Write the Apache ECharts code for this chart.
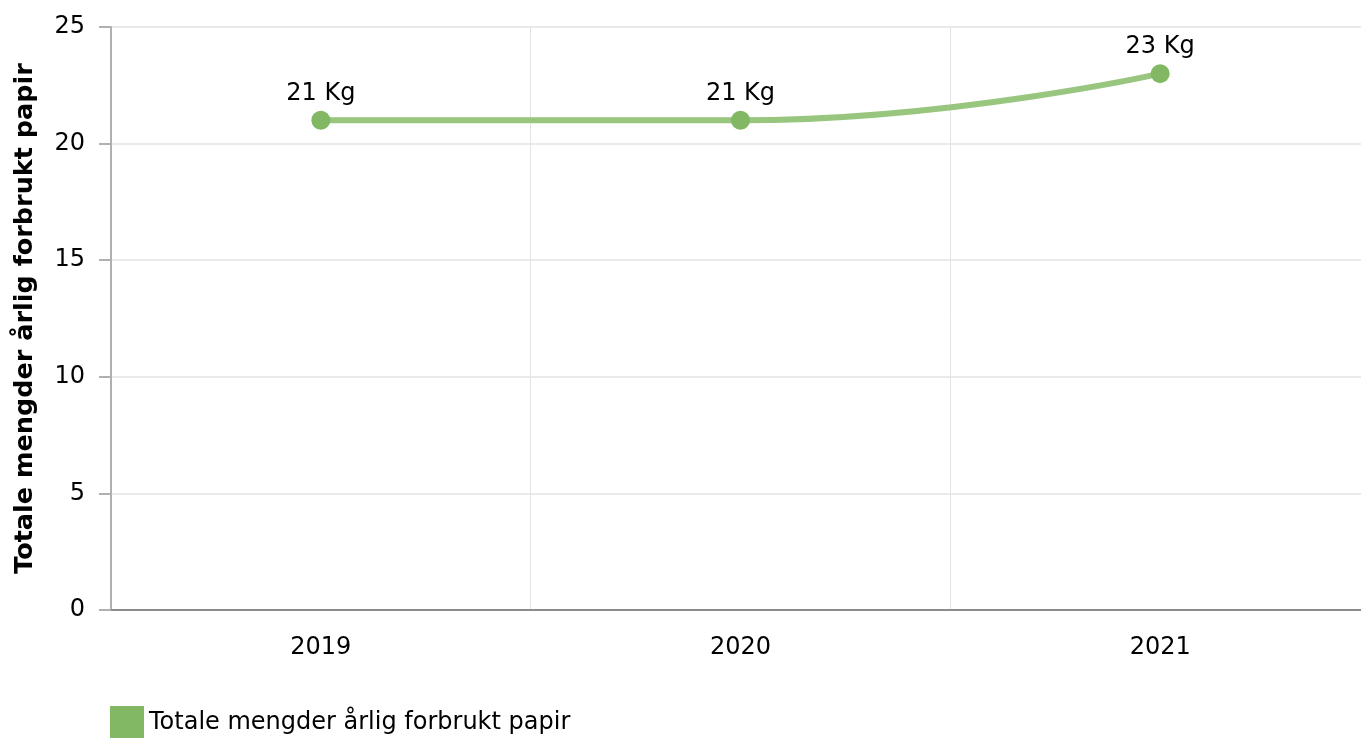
<!DOCTYPE html>
<html>
<head>
<meta charset="utf-8">
<script src="https://cdn.jsdelivr.net/npm/echarts@6/dist/echarts.min.js"></script>
<style>html,body{margin:0;padding:0;background:#fff;}#c{width:1361px;height:738px;}</style>
</head>
<body>
<div id="c"></div>
<script>
const categories = ['2019', '2020', '2021'];
const values = [21, 21, 23];
const seriesName = 'Totale mengder årlig forbrukt papir';
const yAxisName = 'Totale mengder årlig forbrukt papir';
const unit = 'Kg';

const chart = echarts.init(document.getElementById('c'));
const font = 'Verdana, "DejaVu Sans", sans-serif';
chart.setOption({
  animation: false,
  textStyle: { fontFamily: font },
  grid: { left: 111, top: 27, bottom: 128, right: -9, containLabel: false, outerBoundsMode: 'none' },
  legend: {
    left: 105, top: 701,
    icon: 'rect', itemWidth: 34, itemHeight: 34, itemGap: 10, itemStyle: { borderWidth: 0 },
    textStyle: { fontSize: 24, color: '#000', fontFamily: font },
    data: [seriesName]
  },
  xAxis: {
    type: 'category',
    data: categories,
    boundaryGap: true,
    axisLine: { lineStyle: { color: '#8c8c8c', width: 2 } },
    axisTick: { alignWithLabel: true, length: 11, lineStyle: { color: '#b0b0b0', width: 2 } },
    axisLabel: { fontSize: 24, color: '#000', margin: 26, fontFamily: font },
    splitLine: { show: true, lineStyle: { color: '#e3e3e3', width: 1 } }
  },
  yAxis: {
    type: 'value',
    min: 0, max: 25, interval: 5,
    name: yAxisName,
    nameLocation: 'middle',
    nameGap: 73,
    nameTextStyle: { fontSize: 25.5, fontWeight: 'bold', color: '#000', fontFamily: font },
    axisLine: { show: true, lineStyle: { color: '#b0b0b0', width: 2 } },
    axisTick: { show: true, length: 12, lineStyle: { color: '#b0b0b0', width: 2 } },
    axisLabel: { fontSize: 24, color: '#000', margin: 26, fontFamily: font },
    splitLine: { show: true, lineStyle: { color: '#e3e3e3', width: 1.5 } }
  },
  series: [{
    name: seriesName,
    type: 'line',
    data: values,
    smooth: 0.5,
    symbol: 'circle',
    symbolSize: 19,
    itemStyle: { color: '#82b763' },
    lineStyle: { color: '#98c67f', width: 6 },
    label: {
      show: true, position: 'top', distance: 5,
      fontSize: 24, color: '#000', fontFamily: font,
      formatter: p => p.value + ' ' + unit
    }
  }]
});
</script>
</body>
</html>
